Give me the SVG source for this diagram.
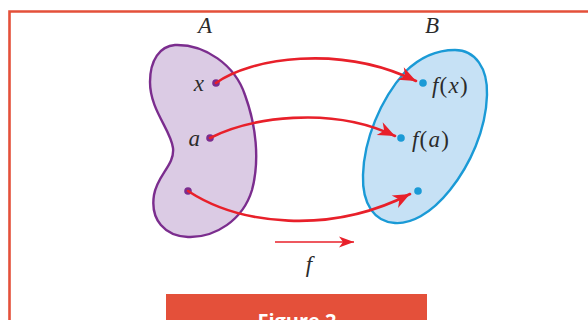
<svg xmlns="http://www.w3.org/2000/svg" width="588" height="320" viewBox="0 0 588 320">
  <defs>
    <style>
      .lbl { font-family: "Liberation Serif", "Times New Roman", serif; font-style: italic; font-size: 23px; fill: #2b2b2b; }
      .up { font-style: normal; }
      .conn { fill: none; stroke: #e8202a; stroke-width: 2.6; stroke-linecap: round; }
      .dotA { fill: #7b2d8e; }
      .dotB { fill: #1a9ad6; }
    </style>
    <marker id="head" markerUnits="userSpaceOnUse" markerWidth="20" markerHeight="16" viewBox="-18 -8 20 16" refX="0" refY="0" orient="auto">
      <path d="M0,0 L-17,-7 L-12,0 L-17,7 Z" fill="#e8202a"/>
    </marker>
    <marker id="headSmall" markerUnits="userSpaceOnUse" markerWidth="18" markerHeight="14" viewBox="-16 -7 18 14" refX="0" refY="0" orient="auto">
      <path d="M0,0 L-15,-5.5 L-11,0 L-15,5.5 Z" fill="#e8202a"/>
    </marker>
  </defs>

  <rect x="0" y="0" width="588" height="320" fill="#ffffff"/>
  <!-- frame -->
  <path d="M9.5 322 V11.5 H590" fill="none" stroke="#e4503a" stroke-width="2.6"/>

  <g id="setA">
    <path d="M175 45 C205 44, 235 65, 245 95 C256 125, 260 160, 252 190 C243 220, 215 238, 188 237 C165 236, 150 220, 154 195 C157 175, 175 165, 173 148 C171 130, 150 110, 150 82 C150 60, 160 46, 175 45 Z" fill="#dbcbe4" stroke="#7b2d8e" stroke-width="2.4"/>
    <text class="lbl" x="205" y="33" text-anchor="middle">A</text>
    <circle class="dotA" cx="216" cy="83" r="3.8"/>
    <text class="lbl" x="204" y="91" text-anchor="end">x</text>
    <circle class="dotA" cx="210" cy="138" r="3.8"/>
    <text class="lbl" x="200" y="146" text-anchor="end">a</text>
    <circle class="dotA" cx="188" cy="191" r="3.8"/>
  </g>

  <g id="setB">
    <path d="M455 50 C475 50, 488 68, 487 95 C486 130, 470 165, 450 190 C430 215, 410 224, 395 223 C375 222, 362 205, 363 175 C364 140, 380 100, 405 72 C420 57, 438 50, 455 50 Z" fill="#c6e1f5" stroke="#1a9ad6" stroke-width="2.4"/>
    <text class="lbl" x="432" y="33" text-anchor="middle">B</text>
    <circle class="dotB" cx="423" cy="83" r="3.8"/>
    <text class="lbl" x="432" y="93" letter-spacing="1.2">f<tspan class="up">(</tspan>x<tspan class="up">)</tspan></text>
    <circle class="dotB" cx="401" cy="138" r="3.8"/>
    <text class="lbl" x="412" y="147" letter-spacing="1.2">f<tspan class="up">(</tspan>a<tspan class="up">)</tspan></text>
    <circle class="dotB" cx="418" cy="191" r="3.8"/>
  </g>

  <g id="connectors">
    <path class="conn" d="M216 83 C250 58, 340 44, 416 81" marker-end="url(#head)"/>
    <path class="conn" d="M210 138 C250 118, 330 105, 395 136" marker-end="url(#head)"/>
    <path class="conn" d="M188 191 C240 225, 330 235, 410 194" marker-end="url(#head)"/>
  </g>

  <g id="legend">
    <line x1="275" y1="242" x2="354" y2="242" stroke="#e8202a" stroke-width="1.6" marker-end="url(#headSmall)"/>
    <text class="lbl" x="309" y="272" text-anchor="middle">f</text>
  </g>

  <g id="caption">
    <rect x="166" y="294" width="261" height="30" fill="#e4503a"/>
    <text x="297" y="328" text-anchor="middle" font-family="'Open Sans', 'Liberation Sans', sans-serif" font-weight="bold" font-size="20" fill="#ffffff">Figure 2</text>
  </g>
</svg>
